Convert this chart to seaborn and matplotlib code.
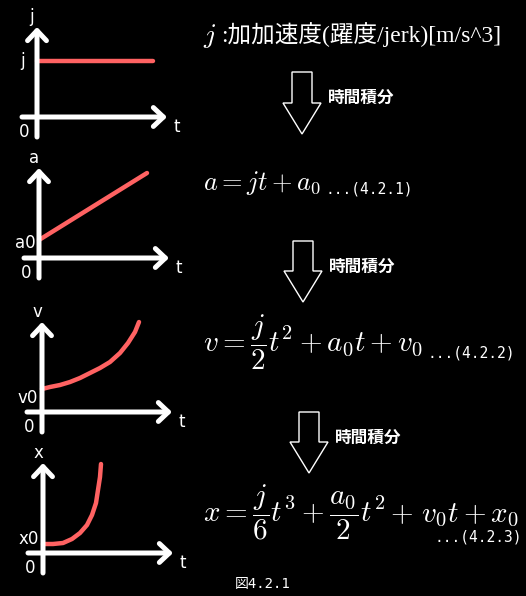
import matplotlib
matplotlib.use("Agg")
import matplotlib.pyplot as plt
from matplotlib.patches import FancyArrow
import seaborn as sns

# values (panel units, t to the right, value up)
j_t = [0, 11.6]
j_val = [5.6, 5.6]

a_t = [0, 10.8]
a_val = [1.8, 8.5]

v_t = [0, 0.8, 1.8, 2.8, 3.8, 4.8, 5.8, 6.8, 7.8, 8.6, 9.3, 9.7]
v_val = [2.3, 2.5, 2.7, 3.0, 3.4, 3.9, 4.4, 5.0, 5.9, 6.9, 8.0, 9.0]

x_t = [0, 1.0, 2.0, 2.9, 3.7, 4.4, 4.9, 5.3, 5.5, 5.7, 5.8]
x_val = [0.9, 0.9, 1.0, 1.4, 2.0, 2.8, 3.8, 5.0, 6.3, 7.6, 8.9]

axis_names = ["j", "a", "v", "x"]
start_labels = ["j", "a0", "v0", "x0"]
start_label_y = [5.6, 1.5, 1.4, 1.4]

header = ":加加速度(躍度/jerk)[m/s^3]"
equations = [
    [r"$a = jt + a_0$"],
    [r"$v = \dfrac{j}{2}t^2 + a_0t + v_0$"],
    [r"$x = \dfrac{j}{6}t^3 + \dfrac{a_0}{2}t^2$", r"$+\ v_0t + x_0$"],
]
eq_sizes = [19, 21, 21]
eq_numbers = ["...(4.2.1)", "...(4.2.2)", "...(4.2.3)"]
step_label = "時間積分"
caption = "図4.2.1"

sns.set_theme(style="dark", rc={"axes.facecolor": "black", "figure.facecolor": "black"})
plt.rcParams["mathtext.fontset"] = "cm"
plt.rcParams["font.family"] = ["DejaVu Sans", "Noto Sans CJK JP"]

W, H = 526, 596
fig = plt.figure(figsize=(W / 100, H / 100), dpi=100)
fig.patch.set_facecolor("black")

red = "#ff6262"

# background axes in pixel units for the right-hand text
bg = fig.add_axes([0, 0, 1, 1])
bg.set_xlim(0, W)
bg.set_ylim(H, 0)
bg.axis("off")

# small graphs on the left
origins = [(37, 117), (39, 258), (42, 412), (43, 553)]
curves = [(j_t, j_val), (a_t, a_val), (v_t, v_val), (x_t, x_val)]
axis_kw = dict(arrowstyle="->,head_length=0.36,head_width=0.34", color="white",
               lw=3.6, mutation_scale=20, shrinkA=0, shrinkB=0)
label_kw = dict(color="white", fontsize=12, ha="center", va="center",
                family=["DejaVu Sans", "Noto Sans CJK JP"])

for i, (ox, oy) in enumerate(origins):
    ax = fig.add_axes([(ox - 30) / W, (H - oy - 25) / H, 180 / W, 135 / H])
    ax.set_xlim(-3, 15)
    ax.set_ylim(-2.5, 11)
    ax.axis("off")
    ax.annotate("", xy=(13, 0), xytext=(-1.5, 0), arrowprops=axis_kw)
    ax.annotate("", xy=(0, 9), xytext=(0, -2), arrowprops=axis_kw)
    tt, vv = curves[i]
    sns.lineplot(x=tt, y=vv, ax=ax, color=red, lw=3.2, sort=False,
                 estimator=None, solid_capstyle="round")
    ax.text(-0.5, 10.0, axis_names[i], **label_kw)
    ax.text(-1.4, start_label_y[i], start_labels[i], **label_kw)
    ax.text(-1.3, -1.5, "0", **label_kw)
    ax.text(14.0, -1.0, "t", **label_kw)

# header line
bg.text(203, 43, r"$j$", color="white", fontsize=20, va="baseline")
bg.text(221, 35, header, color="white", fontsize=17, va="center",
        family=["Liberation Serif", "Noto Sans CJK JP"])

# equations; parts are placed one after another
renderer = fig.canvas.get_renderer()
eq_pos = [(203, 190), (203, 352), (203, 522)]
eq_ends = []
for parts, size, (ex, ey) in zip(equations, eq_sizes, eq_pos):
    x = ex
    for p in parts:
        t = bg.text(x, ey, p, color="white", fontsize=size, va="baseline")
        bb = t.get_window_extent(renderer)
        x = bb.x1 + 5
    eq_ends.append(bb.x1)

num_kw = dict(color="white", fontsize=10.5, va="baseline", family="DejaVu Sans Mono")
bg.text(eq_ends[0] + 4, 193, eq_numbers[0], **num_kw)
bg.text(eq_ends[1] + 4, 358, eq_numbers[1], **num_kw)
bg.text(eq_ends[2] + 3, 542, eq_numbers[2], ha="right", **num_kw)

# block arrows + label
arrows = [(302, 72, 134), (303, 241, 302), (309, 412, 473)]
for cx, top, tip in arrows:
    bg.add_patch(FancyArrow(cx, top, 0, tip - top, width=20, head_width=38,
                            head_length=31, length_includes_head=True,
                            fc="black", ec="white", lw=1))
    bg.text(cx + 26, top + 26, step_label, color="white", fontsize=12,
            fontweight="bold", va="center", family="Noto Sans CJK JP")

bg.text(235, 584, caption, color="white", fontsize=10, va="center",
        family=["DejaVu Sans Mono", "Noto Sans CJK JP"])

fig.savefig("out.png", dpi=100, facecolor="black")
